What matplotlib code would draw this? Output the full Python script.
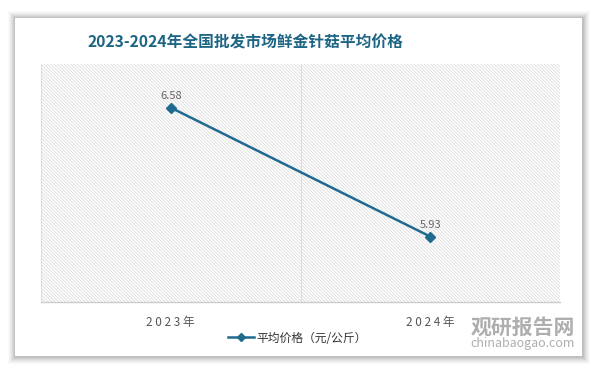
import matplotlib
matplotlib.use("Agg")
import matplotlib.pyplot as plt
from matplotlib.patches import Rectangle
from matplotlib.lines import Line2D

plt.rcParams['font.family'] = ['Noto Sans CJK SC', 'DejaVu Sans']
plt.rcParams['hatch.linewidth'] = 0.5
plt.rcParams['hatch.color'] = '#d6d6d6'

categories = ['2023年', '2024年']
values = [6.58, 5.93]
series_name = '平均价格（元/公斤）'
title = '2023-2024年全国批发市场鲜金针菇平均价格'

W, H = 594, 366
fig = plt.figure(figsize=(W / 100, H / 100), dpi=100)
fig.patch.set_facecolor('white')

# card shadow
for i, a in enumerate([0.02, 0.025, 0.03, 0.035, 0.04, 0.05, 0.06]):
    d = 7 - i
    fig.patches.append(Rectangle(((15 - d) / W, 1 - (357 + d) / H), (568 + 2 * d) / W, (339 + 2 * d) / H,
                                 transform=fig.transFigure, facecolor='black', alpha=a, edgecolor='none', zorder=0))
fig.patches.append(Rectangle((15 / W, 1 - 356 / H), 567 / W, 338 / H, transform=fig.transFigure,
                             facecolor='white', edgecolor='none', zorder=1))

ax = fig.add_axes([41 / W, 1 - 302 / H, (560 - 41) / W, (302 - 64) / H])
ax.set_zorder(2)
ax.set_facecolor('none')
x = list(range(len(categories)))
ax.set_xlim(-0.5, len(categories) - 0.5)
ax.set_ylim(5.6, 6.8)

ax.add_patch(Rectangle((0, 0), 1, 1, transform=ax.transAxes, facecolor='white',
                       hatch='\\' * 10, edgecolor='#d6d6d6', linewidth=0, zorder=0))
ax.axvline(0.5, color='#dddddd', linewidth=0.8, zorder=1)

ax.plot(x, values, color='#1f6a8f', linewidth=1.8, marker='D', markersize=5, zorder=3)
for xi, v in zip(x, values):
    ax.annotate(f'{v:.2f}', (xi, v), xytext=(0, 5), textcoords='offset points', ha='center', va='bottom',
                fontsize=8, color='#666666', zorder=4)

ax.set_xticks(x)
ax.set_xticklabels([' '.join(c) for c in categories], fontsize=8.5, color='#555555')
ax.tick_params(axis='x', length=0, pad=10)
ax.set_yticks([])
for s in ['top', 'right']:
    ax.spines[s].set_visible(False)
ax.spines['left'].set_color('#dddddd')
ax.spines['bottom'].set_color('#cccccc')
ax.spines['bottom'].set_linewidth(1.0)

fig.text(245 / W, 1 - 42 / H, title, ha='center', va='center', fontsize=11.3, fontweight='bold',
         color='#1d6584', zorder=5)

handle = Line2D([], [], color='#1f6a8f', linewidth=1.8, marker='D', markersize=4)
fig.legend([handle], [series_name], loc='center', bbox_to_anchor=(297 / W, 1 - 338 / H), frameon=False,
           fontsize=8.5, handlelength=2.2, handletextpad=0.2, labelcolor='#333333')

# watermark
fig.text(575 / W, 1 - 327 / H, '观研报告网', ha='right', va='center', fontsize=15, fontweight='bold',
         color='#9a9a9a', alpha=0.8, zorder=6)
fig.text(575 / W, 1 - 344 / H, 'chinabaogao.com', ha='right', va='center', fontsize=9,
         color='#9a9a9a', alpha=0.8, zorder=6)

fig.savefig('out.png', dpi=100)
